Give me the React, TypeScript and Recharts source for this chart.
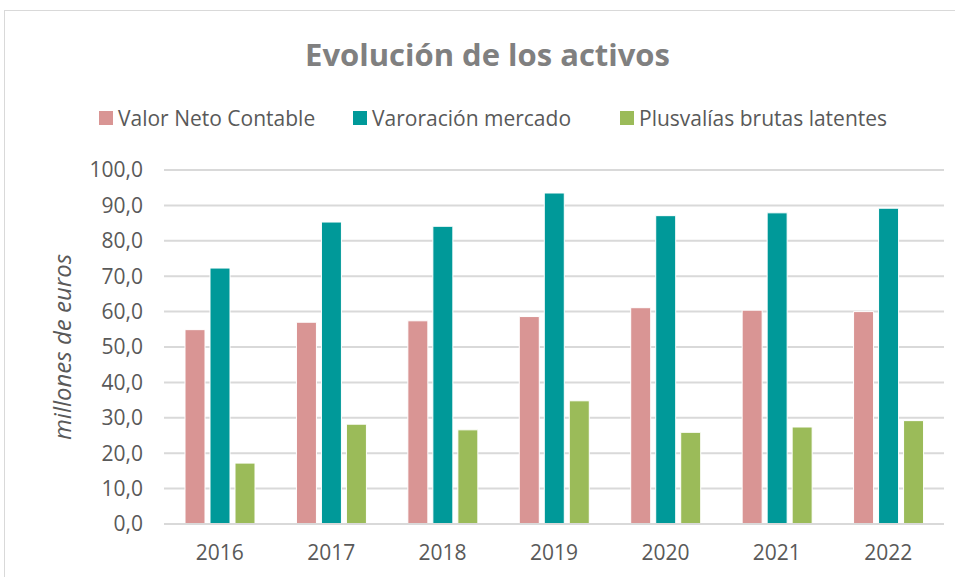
import { BarChart, Bar, XAxis, YAxis, CartesianGrid, Label } from 'recharts'

const years = ['2016', '2017', '2018', '2019', '2020', '2021', '2022']
const valorNeto = [54.9, 57.0, 57.4, 58.6, 61.1, 60.4, 60.0]
const mercado = [72.3, 85.3, 84.1, 93.5, 87.1, 87.9, 89.2]
const plusvalias = [17.2, 28.2, 26.6, 34.8, 25.9, 27.4, 29.2]
const yTicks = [0, 10, 20, 30, 40, 50, 60, 70, 80, 90, 100]

const SERIES = [
  { key: 'valorNeto', name: 'Valor Neto Contable', color: '#d99594', left: 99 },
  { key: 'mercado', name: 'Varoración mercado', color: '#009999', left: 353 },
  { key: 'plusvalias', name: 'Plusvalías brutas latentes', color: '#9bbb59', left: 620 },
]

const FONT = '"Open Sans", sans-serif'
const TEXT = '#595959'

const data = years.map((year, i) => ({
  year,
  valorNeto: valorNeto[i],
  mercado: mercado[i],
  plusvalias: plusvalias[i],
}))

const fmt = (v: number) => v.toFixed(1).replace('.', ',')

export default function App() {
  return (
    <div style={{ position: 'fixed', left: 0, top: 0, width: 955, height: 577, overflow: 'hidden', background: '#fff', fontFamily: FONT }}>
      <div style={{ position: 'absolute', left: 4, top: 10, width: 1000, height: 600, borderLeft: '1.5px solid #d9d9d9', borderTop: '1.5px solid #d9d9d9' }} />
      <div style={{ position: 'absolute', left: 0, top: 33, width: 975, textAlign: 'center', fontSize: 31, fontWeight: 700, color: '#808080' }}>
        Evolución de los activos
      </div>
      {SERIES.map((s) => (
        <div key={s.key} style={{ position: 'absolute', left: s.left, top: 104, display: 'flex', alignItems: 'center', fontSize: 21, color: TEXT, whiteSpace: 'nowrap' }}>
          <span style={{ display: 'inline-block', width: 14, height: 14, background: s.color, marginRight: 5 }} />
          <span>{s.name}</span>
        </div>
      ))}
      <div style={{ position: 'absolute', left: 0, top: 0 }}>
        <BarChart width={955} height={577} data={data} margin={{ top: 170, right: 11, left: 0, bottom: 0 }} barSize={20} barGap={5}>
          <CartesianGrid vertical={false} stroke="#d9d9d9" strokeWidth={2} />
          <XAxis
            dataKey="year"
            axisLine={{ stroke: '#d9d9d9', strokeWidth: 2 }}
            tickLine={false}
            tickSize={0}
            tickMargin={21}
            height={53}
            tick={{ fontSize: 21, fill: TEXT, fontFamily: FONT }}
          />
          <YAxis
            width={164}
            domain={[0, 100]}
            ticks={yTicks}
            tickFormatter={fmt}
            axisLine={false}
            tickLine={false}
            tickSize={0}
            tickMargin={21}
            tick={{ fontSize: 21, fill: TEXT, fontFamily: FONT }}
          >
            <Label
              value="millones de euros"
              angle={-90}
              position="insideLeft"
              offset={62}
              style={{ fontSize: 24, fill: TEXT, fontStyle: 'italic', fontFamily: FONT, textAnchor: 'middle' }}
            />
          </YAxis>
          {SERIES.map((s) => (
            <Bar key={s.key} dataKey={s.key} name={s.name} fill={s.color} stroke="#ffffff" strokeWidth={1} isAnimationActive={false} />
          ))}
        </BarChart>
      </div>
    </div>
  )
}
